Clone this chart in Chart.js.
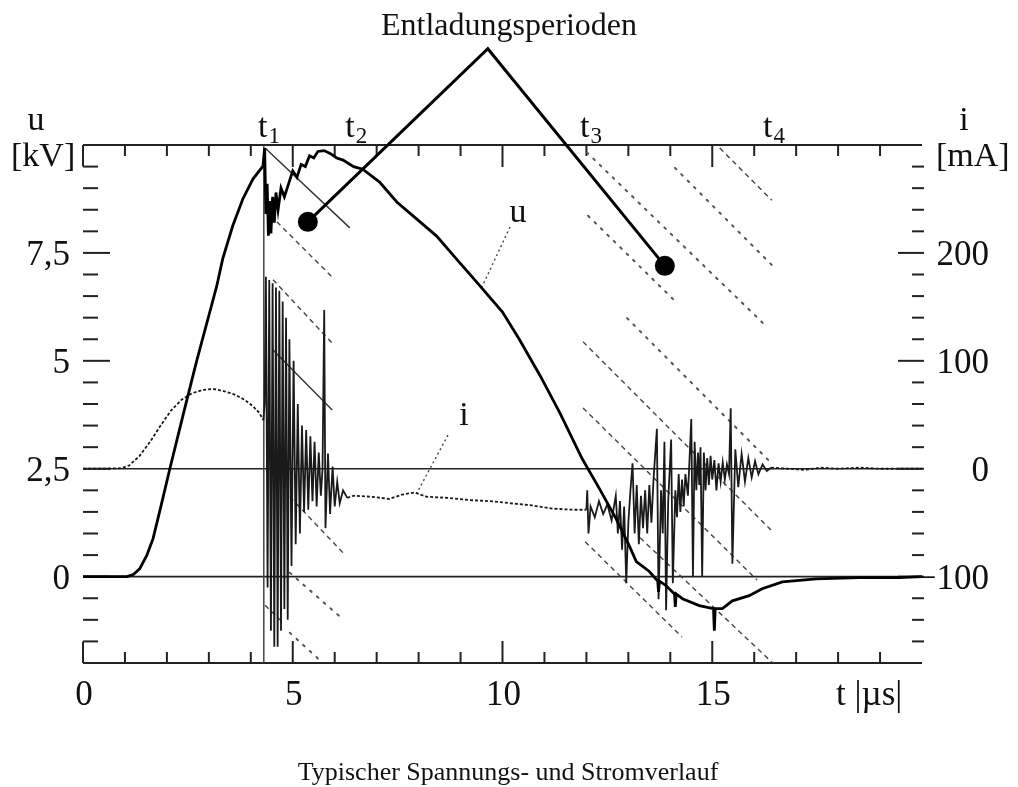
<!DOCTYPE html>
<html>
<head>
<meta charset="utf-8">
<script src="https://cdn.jsdelivr.net/npm/chart.js@4.4.1/dist/chart.umd.min.js"></script>
<style>
html, body { margin: 0; padding: 0; background: #fff; }
#wrap { width: 1018px; height: 787px; position: relative; }
</style>
</head>
<body>
<div id="wrap"><canvas id="chart"></canvas></div>
<script>
// Spannung u [kV] ueber t [µs]
const uPoints = [
  [0,0],[0.5,0],[1.05,0],[1.2,0.05],[1.35,0.18],[1.52,0.49],[1.67,0.88],[1.85,1.6],
  [2.07,2.5],[2.4,3.8],[2.71,5.0],[3.0,6.05],[3.19,6.74],[3.33,7.36],[3.57,8.13],
  [3.81,8.75],[4.05,9.21],[4.29,9.51],[4.33,9.93],[4.36,8.4],[4.39,9.1],[4.42,7.9],
  [4.45,8.7],[4.48,7.95],[4.52,8.8],[4.56,8.2],[4.6,8.9],[4.65,8.5],[4.72,9.0],
  [4.8,8.8],[4.9,9.1],[5.0,9.4],[5.1,9.25],[5.2,9.55],[5.3,9.5],[5.4,9.75],[5.5,9.7],
  [5.6,9.85],[5.75,9.87],[5.9,9.8],[6.05,9.7],[6.2,9.65],[6.45,9.5],[6.67,9.44],
  [7.07,9.14],[7.48,8.68],[7.95,8.29],[8.43,7.89],[8.9,7.36],[9.38,6.83],[10.0,6.13],
  [10.4,5.5],[10.9,4.65],[11.37,3.79],[11.9,2.73],[12.31,2.04],[12.71,1.34],[13.02,0.72],
  [13.19,0.35],[13.5,0.12],[13.7,-0.1],[13.72,-0.35],[13.74,-0.1],[13.9,-0.21],
  [14.1,-0.4],[14.12,-0.7],[14.14,-0.4],[14.29,-0.51],[14.69,-0.67],[15.03,-0.74],
  [15.05,-1.25],[15.07,-0.74],[15.24,-0.74],[15.48,-0.56],[15.88,-0.44],[16.19,-0.28],
  [16.67,-0.12],[17.48,-0.05],[18.5,-0.02],[19.45,-0.02],[20,0]
];

// Strom i [mA]
const iPoints = [
  [0,0],[0.5,0],[0.9,0.5],[1.1,3],[1.35,12],[1.6,25],[1.85,40],[2.1,54],[2.35,64],
  [2.6,70],[2.85,73],[3.1,74],[3.35,72],[3.6,69],[3.85,64],[4.05,58],[4.2,52],[4.3,45],
  [4.33,60],[4.36,178],[4.40,-110],[4.44,175],[4.48,-150],[4.52,172],[4.56,-165],
  [4.60,168],[4.64,-165],[4.68,165],[4.72,-150],[4.76,155],[4.80,-130],[4.84,140],
  [4.88,-140],[4.92,120],[4.97,-90],[5.02,100],[5.07,-70],[5.12,60],[5.17,-60],
  [5.22,40],[5.27,-40],[5.32,36],[5.37,-38],[5.42,30],[5.47,-30],[5.52,25],[5.57,-35],
  [5.62,15],[5.67,-25],[5.71,0],[5.75,147],[5.78,-55],[5.84,14],[5.89,-42],[5.95,2],
  [6.00,-35],[6.06,-12],[6.12,-32],[6.2,-20],[6.3,-27],
  [6.45,-25],[6.9,-26],[7.3,-28],[7.6,-24],[7.9,-22],[8.2,-26],[8.7,-27],[9.2,-29],
  [9.7,-30],[10.2,-32],[10.7,-34],[11.2,-37],[11.7,-38],[12.0,-38],
  [12.02,-20],[12.05,-60],[12.1,-35],[12.2,-45],[12.3,-30],[12.4,-42],[12.5,-33],
  [12.6,-48],[12.7,-25],[12.75,-60],[12.8,-30],[12.85,-75],[12.9,-35],[12.95,-106],
  [13.0,-50],[13.05,-20],[13.1,5],[13.15,-60],[13.2,-15],[13.25,-70],[13.3,-25],
  [13.35,-55],[13.4,-20],[13.45,-60],[13.5,-15],[13.55,-50],[13.6,-10],[13.68,37],
  [13.72,-121],[13.78,-20],[13.82,-60],[13.86,25],[13.9,-131],[13.95,-30],[14.02,27],
  [14.06,-106],[14.12,-20],[14.16,-45],[14.2,-5],[14.24,-40],[14.28,-10],[14.32,-35],
  [14.36,-5],[14.42,-25],[14.5,46],[14.54,-100],[14.58,25],[14.62,-20],[14.66,15],
  [14.69,-15],[14.72,20],[14.76,-100],[14.8,15],[14.84,-20],[14.88,10],[14.92,-15],
  [14.96,12],[15.0,-10],[15.05,8],[15.1,-20],[15.15,5],[15.2,-12],[15.25,6],[15.3,-10],
  [15.35,4],[15.4,-5],[15.44,56],[15.48,-88],[15.55,18],[15.62,-17],[15.7,14],
  [15.78,-12],[15.86,10],[15.94,-8],[16.02,7],[16.1,-5],[16.2,4],[16.3,-2],[16.4,1],
  [16.8,0],[17.2,-1],[17.6,1],[18,0],[18.5,1],[19,0],[19.5,0],[20,0]
];

// schraege Hilfslinien [t0, u0, t1, u1]
const solidLines = [[4.34,9.93,6.36,8.08],[4.53,5.25,5.94,3.86]];
const dashedLines = [
  [4.62,8.22,5.94,6.94],[4.53,6.88,5.94,5.41],[4.93,1.85,6.25,0.50],[4.34,-0.66,4.77,-1.07],
  [15.18,9.93,16.42,8.72],[11.92,5.44,16.42,1.06],[11.92,3.91,16.07,-0.08],
  [11.97,0.81,14.28,-1.40],[13.28,0.90,16.42,-1.98]
];
const dottedLines = [
  [4.93,0.09,6.13,-0.93],[4.93,-1.30,5.72,-2.0],[12.01,9.83,16.31,5.78],
  [12.04,8.36,14.16,6.34],[14.11,9.47,16.42,7.22],[12.97,5.99,16.38,2.66]
];
const leaderLines = [[10.18,8.10,9.51,6.71],[8.70,3.28,7.96,1.94]];

// Entladungsperioden: Punkt, Spitze, Punkt
const calloutPoints = [[5.36,8.22],[9.65,12.23],[13.87,7.20]];

// Achsen
const tMajor = [5, 10, 15];
const tMinor = [1,2,3,4,6,7,8,9,11,12,13,14,16,17,18,19];
const tLabels = ['0', '5', '10', '15'];
const tLabelValues = [0, 5, 10, 15];
const uMajor = [0, 2.5, 5, 7.5];
const uLabels = ['0', '2,5', '5', '7,5'];
const uMinor = [-1.5,-1,-0.5,0.5,1,1.5,2,3,3.5,4,4.5,5.5,6,6.5,7,8,8.5,9,9.5];
const iMajor = [-100, 0, 100, 200];
const iLabels = ['\u2212100', '0', '100', '200'];
const iMinor = [-160,-140,-120,-80,-60,-40,-20,20,40,60,80,120,140,160,180,220,240,260,280];
const tMarkLine = 4.31;
const tMarkLabelAt = [4.17, 6.25, 11.85, 16.21];
const tMarkSubs = ['1', '2', '3', '4'];

const serif = '"Liberation Serif", "Times New Roman", "DejaVu Serif", serif';

function toXY(pts) { return pts.map(p => ({x: p[0], y: p[1]})); }
function segs(list) {
  const out = [];
  list.forEach(s => {
    out.push({x: s[0], y: s[1]}, {x: s[2], y: s[3]}, {x: s[2], y: null});
  });
  return out;
}

function seg(ctx, x0, y0, x1, y1) {
  ctx.beginPath();
  ctx.moveTo(x0, y0);
  ctx.lineTo(x1, y1);
  ctx.stroke();
}

const framePlugin = {
  id: 'frame',
  beforeDatasetsDraw(chart) {
    const {ctx, chartArea: a} = chart;
    const x = chart.scales.x, u = chart.scales.u, i = chart.scales.i;
    ctx.save();
    ctx.strokeStyle = '#222';
    ctx.lineWidth = 2;
    seg(ctx, a.left, a.top, a.right, a.top);
    seg(ctx, a.left, a.bottom, a.right, a.bottom);
    // linke Stummel
    seg(ctx, a.left, a.top, a.left, u.getPixelForValue(9.5));
    seg(ctx, a.left, u.getPixelForValue(-1.5), a.left, a.bottom);
    tMinor.forEach(t => {
      const px = x.getPixelForValue(t);
      seg(ctx, px, a.top, px, a.top + 11);
      seg(ctx, px, a.bottom, px, a.bottom - 11);
    });
    tMajor.forEach(t => {
      const px = x.getPixelForValue(t);
      seg(ctx, px, a.top, px, a.top + 22);
      seg(ctx, px, a.bottom, px, a.bottom - 22);
    });
    uMinor.forEach(v => {
      const py = u.getPixelForValue(v);
      seg(ctx, a.left, py, a.left + 15, py);
    });
    uMajor.forEach(v => {
      const py = u.getPixelForValue(v);
      seg(ctx, a.left, py, a.left + 27, py);
    });
    iMinor.forEach(v => {
      const py = i.getPixelForValue(v);
      seg(ctx, a.right + 2, py, a.right - 10, py);
    });
    iMajor.forEach(v => {
      const py = i.getPixelForValue(v);
      seg(ctx, a.right + 2, py, a.right - 24, py);
    });
    // Nulllinien
    ctx.lineWidth = 1.6;
    seg(ctx, a.left, u.getPixelForValue(0), a.right, u.getPixelForValue(0));
    seg(ctx, a.left, i.getPixelForValue(0), a.right, i.getPixelForValue(0));
    // t1
    ctx.lineWidth = 1.5;
    ctx.strokeStyle = '#444';
    const px1 = x.getPixelForValue(tMarkLine);
    seg(ctx, px1, a.top, px1, a.bottom);
    ctx.restore();
  },
  afterDraw(chart) {
    const {ctx} = chart;
    const x = chart.scales.x, u = chart.scales.u, i = chart.scales.i;
    ctx.save();
    ctx.fillStyle = '#111';
    ctx.textBaseline = 'alphabetic';
    ctx.font = '32px ' + serif;
    ctx.textAlign = 'center';
    ctx.fillText('Entladungsperioden', 509, 35);

    ctx.font = '34px ' + serif;
    ctx.fillText('u', 36, 130);
    ctx.fillText('i', 964, 130);
    ctx.textAlign = 'left';
    ctx.fillText('[kV]', 11, 166);
    ctx.fillText('[mA]', 936, 166);

    tMarkLabelAt.forEach((t, k) => {
      const px = x.getPixelForValue(t);
      ctx.font = '34px ' + serif;
      ctx.fillText('t', px, 137);
      const w = ctx.measureText('t').width;
      ctx.font = '23px ' + serif;
      ctx.fillText(tMarkSubs[k], px + w + 1, 143);
    });

    ctx.font = '35px ' + serif;
    ctx.textAlign = 'center';
    tLabelValues.forEach((t, k) => {
      ctx.fillText(tLabels[k], x.getPixelForValue(t) + 1, 705);
    });
    ctx.textAlign = 'left';
    ctx.fillText('t |\u00b5s|', 836, 705);

    ctx.textAlign = 'right';
    uMajor.forEach((v, k) => {
      ctx.fillText(uLabels[k], 70, u.getPixelForValue(v) + 12);
    });
    iMajor.forEach((v, k) => {
      ctx.fillText(iLabels[k], 989, i.getPixelForValue(v) + 12);
    });

    ctx.font = '34px ' + serif;
    ctx.textAlign = 'center';
    ctx.fillText('u', 518, 222);
    ctx.fillText('i', 464, 425);

    ctx.font = '26px ' + serif;
    ctx.fillText('Typischer Spannungs- und Stromverlauf', 508, 780);
    ctx.restore();
  }
};

const dashedIPart = c => {
  const t0 = c.p0.parsed.x, t1 = c.p1.parsed.x;
  if (t1 <= 4.3 || (t0 >= 6.3 && t1 <= 12.0) || t0 >= 16.4) return [3, 2];
  return undefined;
};

new Chart(document.getElementById('chart'), {
  type: 'line',
  data: {
    datasets: [
      {
        label: 'Entladungsperioden',
        data: toXY(calloutPoints),
        yAxisID: 'u',
        borderColor: '#000',
        backgroundColor: '#000',
        borderWidth: 3,
        pointRadius: [10, 0, 10],
        pointBorderWidth: 0,
        clip: false,
        tension: 0
      },
      {
        label: 'u',
        data: toXY(uPoints),
        yAxisID: 'u',
        borderColor: '#000',
        borderWidth: 2.8,
        pointRadius: 0,
        tension: 0
      },
      {
        label: 'i',
        data: toXY(iPoints),
        yAxisID: 'i',
        borderColor: '#1a1a1a',
        borderWidth: 1.8,
        pointRadius: 0,
        tension: 0,
        segment: { borderDash: dashedIPart }
      },
      {
        label: 'solid',
        data: segs(solidLines),
        yAxisID: 'u',
        borderColor: '#333',
        borderWidth: 1.4,
        pointRadius: 0,
        spanGaps: false
      },
      {
        label: 'dashed',
        data: segs(dashedLines),
        yAxisID: 'u',
        borderColor: '#444',
        borderWidth: 1.4,
        borderDash: [5, 4],
        pointRadius: 0,
        spanGaps: false
      },
      {
        label: 'dotted',
        data: segs(dottedLines),
        yAxisID: 'u',
        borderColor: '#555',
        borderWidth: 2,
        borderDash: [2, 7],
        borderCapStyle: 'round',
        pointRadius: 0,
        spanGaps: false
      },
      {
        label: 'leader',
        data: segs(leaderLines),
        yAxisID: 'u',
        borderColor: '#444',
        borderWidth: 1.4,
        borderDash: [2, 3],
        pointRadius: 0,
        spanGaps: false
      }
    ]
  },
  options: {
    responsive: true,
    maintainAspectRatio: false,
    animation: false,
    events: [],
    layout: { padding: { left: 83, right: 96, top: 145, bottom: 124 } },
    plugins: { legend: { display: false }, tooltip: { enabled: false } },
    scales: {
      x: { type: 'linear', min: 0, max: 20, display: false },
      u: { type: 'linear', position: 'left', min: -2, max: 10, display: false },
      i: { type: 'linear', position: 'right', min: -180, max: 300, display: false }
    }
  },
  plugins: [framePlugin]
});
</script>
</body>
</html>
